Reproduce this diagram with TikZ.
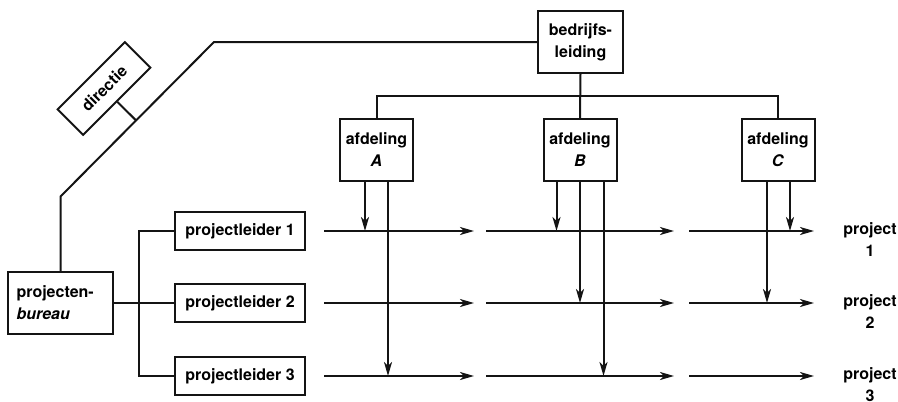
\documentclass[tikz,border=0pt]{standalone}
\usepackage{fontspec}
\setmainfont{TeX Gyre Heros}
\usepackage{xcolor}
\usepackage{tikz}
\usetikzlibrary{arrows.meta,calc}
\definecolor{figline}{RGB}{20,20,20}
\newcommand\lbltxt{\fontsize{16}{22}\selectfont\bfseries}
\tikzset{
  blok/.style ={draw=figline, line width=2pt, font=\lbltxt, align=center, inner sep=2pt},
  lijn/.style ={draw=figline, line width=2pt, line cap=butt},
  pijl/.style ={lijn, -{Stealth[length=14pt,width=8pt,inset=4pt]}},
  lab/.style  ={font=\lbltxt, align=center, inner sep=1pt},
}

\begin{document}
\begin{tikzpicture}[x=1pt,y=-1pt]
  \useasboundingbox (0,0) rectangle (898,402);
  \node[blok, minimum width=85pt, minimum height=62pt] (bl) at (580.5,42) {bedrijfs-\\leiding};
  \node[blok, minimum width=73pt, minimum height=62pt] (afdA) at (376.5,150) {afdeling\\\textit{A}};
  \node[blok, minimum width=73pt, minimum height=62pt] (afdB) at (580,150) {afdeling\\\textit{B}};
  \node[blok, minimum width=73pt, minimum height=62pt] (afdC) at (778,150) {afdeling\\\textit{C}};
  \node[blok, rotate=45, minimum width=95pt, minimum height=36pt] (dir) at (104,88.5) {directie};
  \node[blok, align=left, text width=88pt, inner xsep=8.5pt, minimum height=62pt] (pb) at (60.5,303) {projecten-\\\textit{bureau}};
  \node[blok, minimum width=130pt, minimum height=38pt] (pl1) at (240,231) {projectleider 1};
  \node[blok, minimum width=130pt, minimum height=38pt] (pl2) at (240,303) {projectleider 2};
  \node[blok, minimum width=130pt, minimum height=38pt] (pl3) at (240,376) {projectleider 3};
  \node[lab] (prj1) at (870,240) {project\\1};
  \node[lab] (prj2) at (870,312) {project\\2};
  \node[lab] (prj3) at (870,385) {project\\3};
  \coordinate (knik) at (214,42);
  \coordinate (voet) at (60.5,196.5);
  \draw[lijn] (bl.west) -- (knik) -- (voet) -- (pb.north);
  \draw[lijn] (dir.south) -- ($(knik)!(dir.south)!(voet)$);
  \draw[lijn] (bl.south) -- (afdB.north);
  \draw[lijn] (afdA.north) -- ++(0,-22) -| (afdC.north);
  \draw[lijn] (pb.east) -- ++(25,0) coordinate (bus);
  \draw[lijn] (pl1.west) -| (bus) |- (pl3.west);
  \draw[lijn] (bus) -- (pl2.west);
  \draw[pijl] ([xshift=18pt]pl1.east) -- ([xshift=168pt]pl1.east);
  \draw[pijl] ([xshift=180pt]pl1.east) -- ([xshift=368pt]pl1.east);
  \draw[pijl] ([xshift=383pt]pl1.east) -- ([xshift=508pt]pl1.east);
  \draw[pijl] ([xshift=18pt]pl2.east) -- ([xshift=168pt]pl2.east);
  \draw[pijl] ([xshift=180pt]pl2.east) -- ([xshift=368pt]pl2.east);
  \draw[pijl] ([xshift=383pt]pl2.east) -- ([xshift=508pt]pl2.east);
  \draw[pijl] ([xshift=18pt]pl3.east) -- ([xshift=168pt]pl3.east);
  \draw[pijl] ([xshift=180pt]pl3.east) -- ([xshift=368pt]pl3.east);
  \draw[pijl] ([xshift=383pt]pl3.east) -- ([xshift=508pt]pl3.east);
  \draw[pijl] ([xshift=-11.5pt]afdA.south) coordinate (t) -- (t |- pl1.east);
  \draw[pijl] ([xshift=11.5pt]afdA.south) coordinate (t) -- (t |- pl3.east);
  \draw[pijl] ([xshift=-23.5pt]afdB.south) coordinate (t) -- (t |- pl1.east);
  \draw[pijl] (afdB.south) -- (afdB.south |- pl2.east);
  \draw[pijl] ([xshift=23.5pt]afdB.south) coordinate (t) -- (t |- pl3.east);
  \draw[pijl] ([xshift=-11pt]afdC.south) coordinate (t) -- (t |- pl2.east);
  \draw[pijl] ([xshift=12pt]afdC.south) coordinate (t) -- (t |- pl1.east);
\end{tikzpicture}
\end{document}
